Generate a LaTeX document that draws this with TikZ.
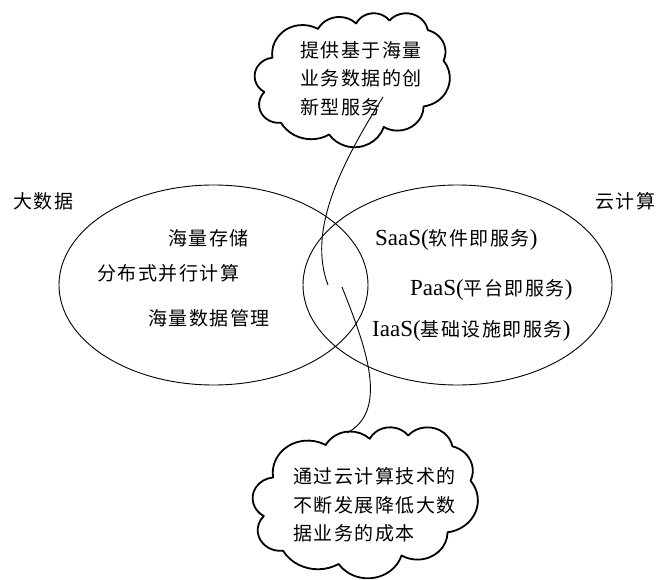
\documentclass[tikz,border=0pt]{standalone}
\usepackage{fontspec}
\setmainfont{Liberation Serif}
\newfontfamily\cjk{Noto Sans CJK SC}[LetterSpace=8]
\usetikzlibrary{shapes.geometric}
\newcommand\cj[1]{{\cjk\fontsize{19}{28}\selectfont #1}}
% convert OOXML visual angles to parametric ones
\newcommand\prep[5]{%
 \pgfmathsetmacro\tmpS{atan2((#2)*sin(#4), (#3)*cos(#4))}%
 \pgfmathsetmacro\tmpE{atan2((#2)*sin(#4+#5), (#3)*cos(#4+#5))}%
 \pgfmathsetmacro\tmpD{mod(\tmpE-\tmpS+720,360)}%
 \expandafter\xdef\csname cldS#1\endcsname{\tmpS}%
 \expandafter\xdef\csname cldD#1\endcsname{\tmpD}%
 \expandafter\xdef\csname cldX#1\endcsname{#2}%
 \expandafter\xdef\csname cldY#1\endcsname{#3}%
}
\newcommand\ca[1]{arc[x radius=\csname cldX#1\endcsname, y radius=\csname cldY#1\endcsname, start angle=\csname cldS#1\endcsname, delta angle=\csname cldD#1\endcsname]}
\newcommand\cloudshape{(390,1437) \ca{a} \ca{b} \ca{c} \ca{d} \ca{e} \ca{f} \ca{g} \ca{h} \ca{i} \ca{j} \ca{k} -- cycle}
\tikzset{
  ell/.style={draw, ellipse, line width=0.9pt, minimum width=309pt, minimum height=200pt, inner sep=0pt},
  lbl/.style={inner sep=0pt, anchor=west, font=\cjk\fontsize{19}{28.5}\selectfont},
  mix/.style={inner sep=0pt, anchor=base west, font=\fontsize{23}{28}\selectfont},
  cloudbox/.style={inner sep=0pt},
  cloudline/.style={line width=1.8pt, line join=round},
  link/.style={line width=0.9pt},
}
\begin{document}
\prep{a}{675.3}{919.0}{-190.4875}{123.7805}%
\prep{b}{533.3}{726.7}{-144.1024}{89.9452}%
\prep{c}{436.5}{594.5}{-145.8079}{99.7230}%
\prep{d}{485.7}{659.5}{-130.9861}{117.2417}%
\prep{e}{533.3}{727.3}{-78.7089}{109.0269}%
\prep{f}{677.5}{922.0}{-46.2673}{130.2690}%
\prep{g}{578.5}{786.7}{0.6250}{114.0333}%
\prep{h}{675.2}{921.5}{22.4516}{115.1726}%
\prep{i}{772.0}{1054.3}{66.2426}{75.7110}%
\prep{j}{436.0}{591.8}{-274.9421}{146.7356}%
\prep{k}{434.5}{594.5}{-246.8285}{152.5189}%
\begin{tikzpicture}[x=1pt,y=-1pt]
\useasboundingbox (0,0) rectangle (656,580);
% ellipses
\node[ell] (big) at (213.5,285) {};
\node[ell] (cloud) at (457.5,285) {};
% clouds
\node[cloudbox, minimum width=195pt, minimum height=134pt] (tc) at (352.5,80) {};
\node[cloudbox, minimum width=225pt, minimum height=151pt] (bc) at (365.5,502.5) {};
\draw[cloudline, shift={(tc.north west)}, x=1pt, y=1pt, xscale=195/4320, yscale=-134/4320] \cloudshape;
\draw[cloudline, shift={(bc.north west)}, x=1pt, y=1pt, xscale=225/4320, yscale=-151/4320] \cloudshape;
% connectors
\coordinate (l1s) at (383,97);
\coordinate (l1e) at (328,285);
\coordinate (l2s) at (342,287);
\coordinate (l2e) at (347,433);
\draw[link] (l1s) .. controls (338,169) and (308,232) .. (l1e);
\draw[link] (l2s) .. controls (365,345) and (390,410) .. (l2e);
% labels
\node[lbl] (tbig) at (13,201) {大数据};
\node[lbl] (tcloud) at (595,201) {云计算};
\node[lbl] (a1) at (168,238) {海量存储};
\node[lbl] (a2) at (97,273) {分布式并行计算};
\node[lbl] (a3) at (148,318) {海量数据管理};
\node[mix] (b1) at (375,246) {SaaS(\cj{软件即服务})};
\node[mix] (b2) at (410,295) {PaaS(\cj{平台即服务})};
\node[mix] (b3) at (372,336) {IaaS(\cj{基础设施即服务})};
\node[lbl, align=left] (tctext) at (300,78.5) {提供基于海量\\业务数据的创\\新型服务};
\node[lbl, align=left] (bctext) at (293,505) {通过云计算技术的\\不断发展降低大数\\据业务的成本};
\end{tikzpicture}
\end{document}
